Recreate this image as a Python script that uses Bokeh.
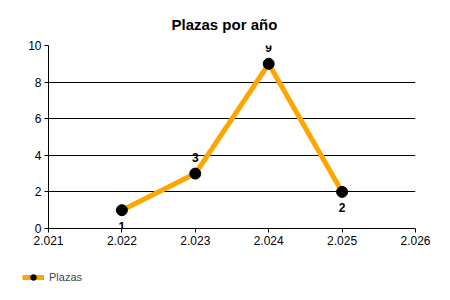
from bokeh.plotting import figure
from bokeh.models import ColumnDataSource, Legend, LegendItem, FixedTicker, Range1d
from bokeh.layouts import column, row
from bokeh.core.properties import value
from bokeh.embed import file_html
from bokeh.resources import INLINE

years = [2022, 2023, 2024, 2025]
plazas = [1, 3, 9, 2]
x_ticks = [2021, 2022, 2023, 2024, 2025, 2026]
x_tick_labels = ["2.021", "2.022", "2.023", "2.024", "2.025", "2.026"]
y_ticks = [0, 2, 4, 6, 8, 10]
label_pos = ["below", "above", "above", "below"]

FONT = "Liberation Sans"
ORANGE = "#FFA500"

p = figure(width=450, height=255, output_backend="svg", toolbar_location=None,
           x_range=Range1d(2021, 2026), y_range=Range1d(0, 10),
           min_border_left=48, min_border_right=35, min_border_top=45, min_border_bottom=27,
           title="Plazas por año")
p.title.align = "left"
p.title.text_font = FONT
p.title.text_font_size = "15px"
p.title.text_font_style = "bold"
p.title.text_color = "black"
p.title.offset = 123
p.title.standoff = 26
p.outline_line_color = None
p.background_fill_color = "white"
p.border_fill_color = "white"

src = ColumnDataSource(dict(
    x=years, y=plazas, t=[str(v) for v in plazas],
    off=[16 if s == "below" else -16 for s in label_pos]))

line = p.line("x", "y", source=src, line_color=ORANGE, line_width=5)
dots = p.scatter("x", "y", source=src, size=11, fill_color="black", line_color="black")
p.text("x", "y", text="t", source=src, y_offset="off", text_align="center",
       text_baseline="middle", text_font=value(FONT), text_font_style="bold",
       text_font_size="12px", text_color="black")

p.xgrid.visible = False
p.ygrid.ticker = FixedTicker(ticks=y_ticks)
p.ygrid.grid_line_color = "black"
p.ygrid.grid_line_width = 1

p.xaxis.ticker = FixedTicker(ticks=x_ticks)
p.xaxis.major_label_overrides = {t: l for t, l in zip(x_ticks, x_tick_labels)}
p.yaxis.ticker = FixedTicker(ticks=y_ticks)
for ax in (p.xaxis[0], p.yaxis[0]):
    ax.axis_line_color = "black"
    ax.major_tick_line_color = "black"
    ax.major_tick_out = 4
    ax.major_tick_in = 0
    ax.minor_tick_line_color = None
    ax.major_label_text_font = FONT
    ax.major_label_text_font_size = "12px"
    ax.major_label_text_color = "black"
    ax.major_label_standoff = 3

# legend strip below the chart
p2 = figure(width=450, height=45, output_backend="svg", toolbar_location=None,
            x_range=Range1d(0, 1), y_range=Range1d(0, 1),
            x_axis_location=None, y_axis_location=None,
            min_border_left=0, min_border_right=0, min_border_top=0, min_border_bottom=0)
p2.grid.visible = False
p2.outline_line_color = None
l2 = p2.line(years, plazas, line_color=ORANGE, line_width=5)
d2 = p2.scatter(years, plazas, size=6, fill_color="black", line_color="black")
legend = Legend(items=[LegendItem(label="Plazas", renderers=[l2, d2])],
                location=(22, 16), background_fill_alpha=0, border_line_color=None,
                label_text_font=FONT, label_text_font_size="11px",
                glyph_width=22, glyph_height=14, padding=0, margin=0, spacing=0,
                label_standoff=5, orientation="horizontal")
p2.add_layout(legend)

layout = column(p, row(p2), spacing=0)
open("out.html", "w").write(file_html(layout, INLINE))
